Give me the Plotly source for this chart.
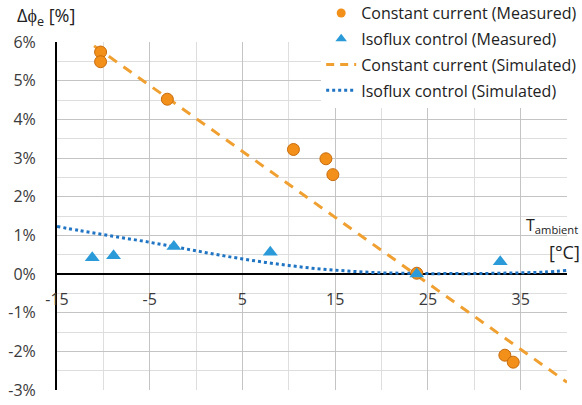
import plotly.graph_objects as go

# Measured data: ambient temperature [°C] vs. luminous flux deviation [%]
cc_meas_t = [-10.3, -10.3, -3.1, 10.5, 14.0, 14.75, 23.8, 33.3, 34.2]
cc_meas_d = [5.74, 5.49, 4.52, 3.22, 2.98, 2.57, 0.02, -2.1, -2.28]

iso_meas_t = [-11.2, -8.9, -2.4, 8.0, 23.8, 32.8]
iso_meas_d = [0.42, 0.47, 0.71, 0.56, 0.0, 0.32]

# Simulated curves
cc_sim_t = [-11.0, 40.0]
cc_sim_d = [5.9, -2.8]

iso_sim_t = [-15, -12.5, -10, -7.5, -5, -2.5, 0, 2.5, 5, 7.5, 10, 12.5, 15, 17.5, 20,
             22.5, 25, 27.5, 30, 32.5, 35, 37.5, 40]
iso_sim_d = [1.23, 1.12, 1.02, 0.92, 0.82, 0.71, 0.6, 0.49, 0.39, 0.3, 0.22, 0.15, 0.1, 0.06, 0.03,
             0.02, 0.01, 0.01, 0.01, 0.02, 0.03, 0.05, 0.09]

x_ticks = [-15, -5, 5, 15, 25, 35]
y_ticks = [-3, -2, -1, 0, 1, 2, 3, 4, 5, 6]
y_labels = [f"{v}%" for v in y_ticks]

FONT = "Open Sans"
ORANGE = "#F39019"
ORANGE_DARK = "#C86C0C"
ORANGE_LINE = "#F0A030"
BLUE = "#2A9AD8"
BLUE_LINE = "#1F74C4"
TEXT = "#222222"
TICK = "#3a3a3a"

names = ["Constant current (Measured)", "Isoflux control (Measured)",
         "Constant current (Simulated)", "Isoflux control (Simulated)"]

fig = go.Figure()

# plotted series (legend entries are drawn by the legend-only traces below)
fig.add_trace(go.Scatter(
    x=cc_sim_t, y=cc_sim_d, mode="lines", showlegend=False, legendgroup="c",
    line=dict(color=ORANGE_LINE, width=3, dash="10px,8px")))
fig.add_trace(go.Scatter(
    x=iso_sim_t, y=iso_sim_d, mode="lines", showlegend=False, legendgroup="d",
    line=dict(color=BLUE_LINE, width=3, dash="dot", shape="spline")))
fig.add_trace(go.Scatter(
    x=cc_meas_t, y=cc_meas_d, mode="markers", showlegend=False, legendgroup="a",
    marker=dict(symbol="circle", size=12, color=ORANGE, line=dict(color=ORANGE_DARK, width=1))))
fig.add_trace(go.Scatter(
    x=iso_meas_t, y=iso_meas_d, mode="markers", showlegend=False, legendgroup="b",
    marker=dict(symbol="triangle-up", size=13, color=BLUE)))

# legend entries with smaller symbols
fig.add_trace(go.Scatter(x=[None], y=[None], mode="markers", name=names[0], legendgroup="a",
                         marker=dict(symbol="circle", size=9, color=ORANGE)))
fig.add_trace(go.Scatter(x=[None], y=[None], mode="markers", name=names[1], legendgroup="b",
                         marker=dict(symbol="triangle-up", size=10, color=BLUE)))
fig.add_trace(go.Scatter(x=[None], y=[None], mode="lines", name=names[2], legendgroup="c",
                         line=dict(color=ORANGE_LINE, width=3, dash="8px,6px")))
fig.add_trace(go.Scatter(x=[None], y=[None], mode="lines", name=names[3], legendgroup="d",
                         line=dict(color=BLUE_LINE, width=3, dash="dot")))

# invisible trace that carries the secondary x-axis (tick labels along the 0 % line)
fig.add_trace(go.Scatter(x=[-15, 40], y=[0, 0], xaxis="x2", mode="lines", legendgroup="d",
                         line=dict(width=0), showlegend=False, hoverinfo="skip"))

fig.update_layout(
    width=582, height=405,
    margin=dict(l=57, r=15, t=42, b=15, autoexpand=False),
    paper_bgcolor="white", plot_bgcolor="white",
    font=dict(family=FONT, size=16, color=TICK),
    showlegend=True,
    legend=dict(
        x=0.518, xanchor="left", y=1.132, yanchor="top",
        bgcolor="white", font=dict(size=16, color=TEXT),
        traceorder="grouped", tracegroupgap=2, itemwidth=30,
    ),
    xaxis=dict(
        range=[-15, 40], tick0=-15, dtick=10, showticklabels=False,
        showgrid=True, gridcolor="#c4c4c4", gridwidth=1,
        minor=dict(dtick=5, showgrid=True, gridcolor="#dedede", gridwidth=1),
        zeroline=False, showline=False, ticks="",
    ),
    xaxis2=dict(
        range=[-15, 40], overlaying="x", anchor="free", position=1 / 3,
        side="bottom", tickvals=x_ticks, ticktext=[str(v) for v in x_ticks],
        showgrid=False, zeroline=False, showline=False, ticks="",
        ticklabelstandoff=14, tickfont=dict(size=16, color=TICK),
    ),
    yaxis=dict(
        range=[-3, 6], tickvals=y_ticks, ticktext=y_labels,
        showgrid=True, gridcolor="#c4c4c4", gridwidth=1,
        minor=dict(dtick=0.5, showgrid=True, gridcolor="#dedede", gridwidth=1),
        zeroline=True, zerolinecolor="#000000", zerolinewidth=2,
        showline=True, linecolor="#000000", linewidth=2,
        ticks="", ticklabelstandoff=16, tickfont=dict(size=16, color=TICK),
    ),
    annotations=[
        dict(text="Δϕ<sub>e</sub> [%]", xref="paper", yref="paper",
             x=-0.082, y=1.072, xanchor="left", yanchor="middle",
             showarrow=False, font=dict(size=18, color=TEXT)),
        dict(text="T<sub>ambient</sub>", xref="paper", yref="paper",
             x=1.026, y=0.474, xanchor="right", yanchor="middle",
             showarrow=False, font=dict(size=16, color=TEXT)),
        dict(text="[°C]", xref="paper", yref="paper",
             x=1.029, y=0.397, xanchor="right", yanchor="middle",
             showarrow=False, font=dict(size=18, color=TEXT)),
    ],
)

fig.write_html("out.html")
